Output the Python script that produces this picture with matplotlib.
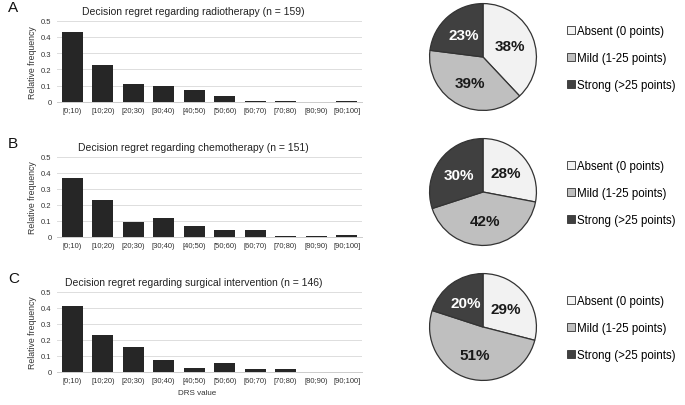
import matplotlib.pyplot as plt
import numpy as np

plt.rcParams['font.family'] = ['Liberation Sans', 'DejaVu Sans']

# DRS value bins
bins = ['[0;10)', '[10;20)', '[20;30)', '[30;40)', '[40;50)', '[50;60)',
        '[60;70)', '[70;80)', '[80;90)', '[90;100]']

# relative frequencies per treatment
radio_freq = [0.43, 0.225, 0.11, 0.10, 0.075, 0.035, 0.005, 0.005, 0.0, 0.005]
chemo_freq = [0.37, 0.23, 0.095, 0.115, 0.07, 0.04, 0.04, 0.006, 0.006, 0.013]
surg_freq = [0.41, 0.23, 0.155, 0.075, 0.025, 0.055, 0.02, 0.02, 0.0, 0.0]

titles = ['Decision regret regarding radiotherapy (n = 159)',
          'Decision regret regarding chemotherapy (n = 151)',
          'Decision regret regarding surgical intervention (n = 146)']
panel_letters = ['A', 'B', 'C']

# pie shares: absent, mild, strong
pie_labels = ['Absent (0 points)', 'Mild (1-25 points)', 'Strong (>25 points)']
radio_pie = [38, 39, 23]
chemo_pie = [28, 42, 30]
surg_pie = [29, 51, 20]

freqs = [radio_freq, chemo_freq, surg_freq]
pies = [radio_pie, chemo_pie, surg_pie]
pie_colors = ['#f2f2f2', '#bfbfbf', '#404040']
text_colors = ['#1a1a1a', '#1a1a1a', 'white']

W, H = 685, 406
fig = plt.figure(figsize=(W / 100, H / 100), dpi=100)


def px_axes(x0, y0, x1, y1):
    # pixel box (top-left origin) -> figure axes
    return fig.add_axes([x0 / W, 1 - y1 / H, (x1 - x0) / W, (y1 - y0) / H])


bar_tops = [21.7, 157.7, 292.7]
bar_bottoms = [102.7, 237.7, 372.7]
pie_cy = [58, 193, 328]
r = 54.5

for i in range(3):
    ax = px_axes(57, bar_tops[i], 362, bar_bottoms[i])
    x = np.arange(len(bins))
    ax.bar(x, freqs[i], width=0.69, color='#262626', zorder=3)
    ax.set_xlim(-0.5, len(bins) - 0.5)
    ax.set_ylim(0, 0.5)
    ax.set_yticks([0, 0.1, 0.2, 0.3, 0.4, 0.5])
    ax.set_yticklabels(['0', '0.1', '0.2', '0.3', '0.4', '0.5'])
    ax.set_xticks(x)
    ax.set_xticklabels(bins)
    ax.tick_params(length=0, labelsize=5.5, colors='#333333', pad=4)
    ax.grid(axis='y', color='#dddddd', linewidth=0.7, zorder=0)
    for s in ['top', 'right', 'left']:
        ax.spines[s].set_visible(False)
    ax.spines['bottom'].set_color('#cccccc')
    ax.spines['bottom'].set_linewidth(0.7)
    ax.set_ylabel('Relative frequency', fontsize=6.3, color='#333333', labelpad=3)
    ax.set_title(titles[i], fontsize=7.5, color='#222222', pad=5, x=0.447)
    if i == 2:
        ax.set_xlabel('DRS value', fontsize=5.8, color='#333333')
        ax.xaxis.set_label_coords(0.46, -0.22)
    fig.text(8 / W, 1 - (bar_tops[i] - 14) / H, panel_letters[i],
             fontsize=11, ha='left', va='center', color='#111111')

    pax = px_axes(483 - r, pie_cy[i] - r, 483 + r, pie_cy[i] + r)
    wedges, texts = pax.pie(pies[i], colors=pie_colors, startangle=90,
                            counterclock=False, radius=1,
                            labels=[f'{v}%' for v in pies[i]], labeldistance=0.55,
                            wedgeprops=dict(edgecolor='#333333', linewidth=0.9))
    for t, c in zip(texts, text_colors):
        t.set_color(c)
        t.set_fontsize(11)
        t.set_fontweight('bold')
        t.set_ha('center')
        t.set_va('center')
    pax.set_xlim(-1.02, 1.02)
    pax.set_ylim(-1.02, 1.02)
    pax.set_aspect('equal')

    leg = fig.legend(wedges, pie_labels, loc='center left',
                     bbox_to_anchor=(562 / W, 1 - (pie_cy[i] + 1) / H),
                     frameon=False, fontsize=8.3, handlelength=0.7,
                     handleheight=0.7, handletextpad=0.2, labelspacing=1.3,
                     borderaxespad=0)
    for h in leg.legend_handles:
        h.set_linewidth(0.6)

fig.savefig('out.png', dpi=100)
